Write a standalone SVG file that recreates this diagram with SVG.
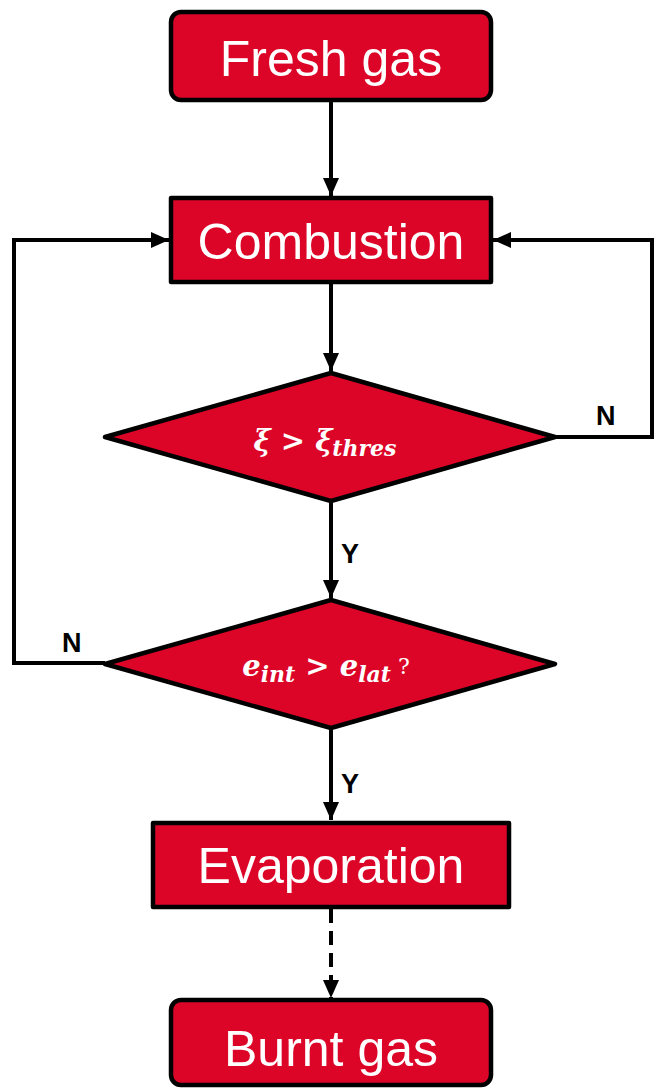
<svg xmlns="http://www.w3.org/2000/svg" width="654" height="1089" viewBox="0 0 654 1089">
<style>
.box{fill:#DC0528;stroke:#000;stroke-width:4.5;stroke-linejoin:round}
.lbl{fill:#fff;font-family:"Liberation Sans",Arial,sans-serif;font-size:50px;text-anchor:middle}
.math{fill:#fff;font-family:"DejaVu Serif","Liberation Serif",serif;font-style:italic;font-weight:bold;text-anchor:middle}
.yn{fill:#000;font-family:"Liberation Sans",Arial,sans-serif;font-size:27px;font-weight:bold}
.ln{fill:none;stroke:#000;stroke-width:4}
</style>
<defs>
<marker id="arr" viewBox="0 0 18 16" refX="18" refY="8" markerWidth="18" markerHeight="16" orient="auto" markerUnits="userSpaceOnUse">
<path d="M0,0 L18,8 L0,16 Z" fill="#000"/>
</marker>
</defs>
<g id="connectors">
<path class="ln" d="M331,101 V196" marker-end="url(#arr)"/>
<path class="ln" d="M331,283 V371" marker-end="url(#arr)"/>
<path class="ln" d="M331,502 V598" marker-end="url(#arr)"/>
<path class="ln" d="M331,729 V820" marker-end="url(#arr)"/>
<path class="ln" d="M331,909 V998" stroke-dasharray="14,8" marker-end="url(#arr)"/>
<path class="ln" d="M555,437 H652 V240 H493" marker-end="url(#arr)"/>
<path class="ln" d="M105,663 H14 V240 H169" marker-end="url(#arr)"/>
<text class="yn" x="596" y="425">N</text>
<text class="yn" x="341" y="563">Y</text>
<text class="yn" x="62" y="652">N</text>
<text class="yn" x="341" y="793">Y</text>
</g>
<g id="fresh">
<rect class="box" x="171" y="12" width="320" height="88" rx="10"/>
<text class="lbl" x="331" y="76">Fresh gas</text>
</g>
<g id="combustion">
<rect class="box" x="171" y="198" width="320" height="84"/>
<text class="lbl" x="331" y="259">Combustion</text>
</g>
<g id="dec1">
<polygon class="box" points="331,373 555,437 331,501 105,437"/>
<text class="math" x="325" y="451" font-size="29">ξ &gt; ξ<tspan font-size="22" dy="5">thres</tspan></text>
</g>
<g id="dec2">
<polygon class="box" points="331,600 555,664 331,728 105,664"/>
<text class="math" x="326" y="676" font-size="29">e<tspan font-size="22" dy="6">int</tspan><tspan dy="-6"> &gt; e</tspan><tspan font-size="22" dy="6">lat</tspan><tspan font-size="22" font-weight="normal" font-style="normal" dy="-8"> ?</tspan></text>
</g>
<g id="evaporation">
<rect class="box" x="153" y="823" width="356" height="84"/>
<text class="lbl" x="331" y="883">Evaporation</text>
</g>
<g id="burnt">
<rect class="box" x="171" y="1000" width="320" height="85" rx="10"/>
<text class="lbl" x="331" y="1066">Burnt gas</text>
</g>
</svg>
